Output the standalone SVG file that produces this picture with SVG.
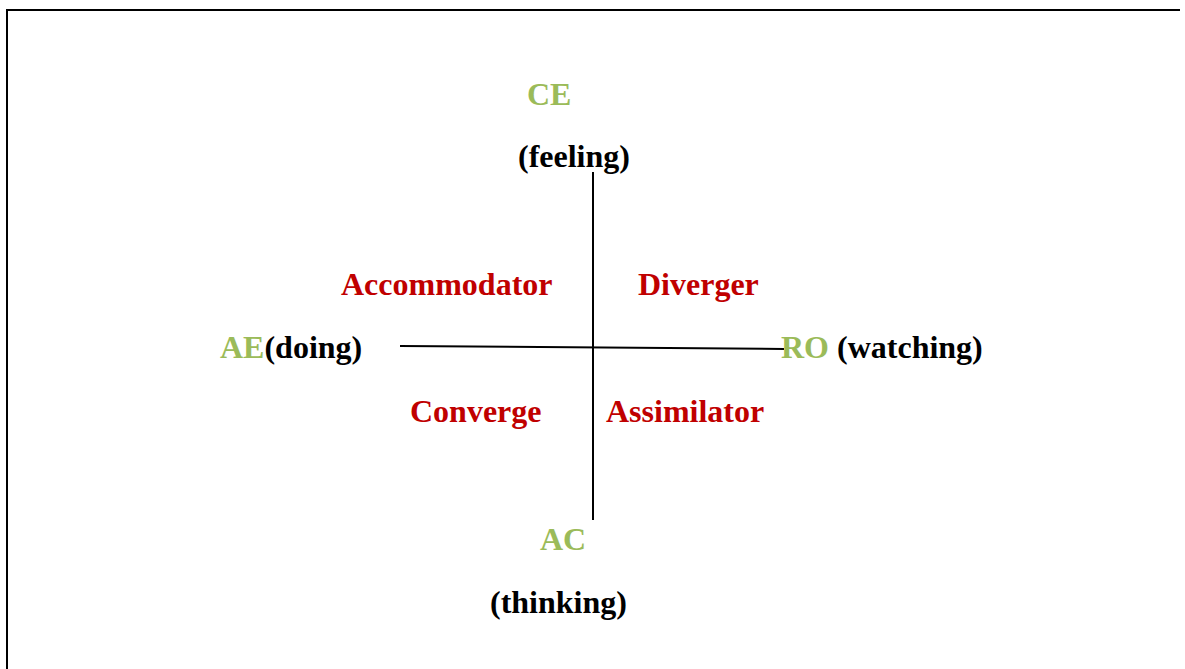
<svg xmlns="http://www.w3.org/2000/svg" width="1185" height="669" viewBox="0 0 1185 669">
  <style>
    text { font-family: "Liberation Serif", "Times New Roman", serif; font-weight: bold; font-size: 32px; }
    .pole { fill: #9BBB59; }
    .mode { fill: #000000; }
    .style { fill: #C00000; }
    .axis { stroke: #000000; stroke-width: 2; fill: none; }
    .frame { stroke: #000000; stroke-width: 2; fill: none; }
  </style>
  <rect width="1185" height="669" fill="#ffffff"/>
  <path class="frame" d="M7,669 V10 H1180"/>

  <g id="connectors">
    <line class="axis" x1="593" y1="172" x2="593" y2="520"/>
    <line class="axis" x1="400" y1="346" x2="784" y2="349"/>
  </g>

  <g id="node-ce">
    <text class="pole" x="527" y="105">CE</text>
    <text class="mode" x="518" y="167">(feeling)</text>
  </g>
  <g id="node-ac">
    <text class="pole" x="540" y="550">AC</text>
    <text class="mode" x="490" y="613">(thinking)</text>
  </g>
  <g id="node-ae">
    <text x="220" y="358"><tspan class="pole">AE</tspan><tspan class="mode">(doing)</tspan></text>
  </g>
  <g id="node-ro">
    <text x="781" y="358"><tspan class="pole">RO</tspan><tspan class="mode"> (watching)</tspan></text>
  </g>

  <g id="node-accommodator">
    <text class="style" x="341" y="295">Accommodator</text>
  </g>
  <g id="node-diverger">
    <text class="style" x="638" y="295">Diverger</text>
  </g>
  <g id="node-converge">
    <text class="style" x="410" y="422">Converge</text>
  </g>
  <g id="node-assimilator">
    <text class="style" x="606" y="422">Assimilator</text>
  </g>
</svg>
